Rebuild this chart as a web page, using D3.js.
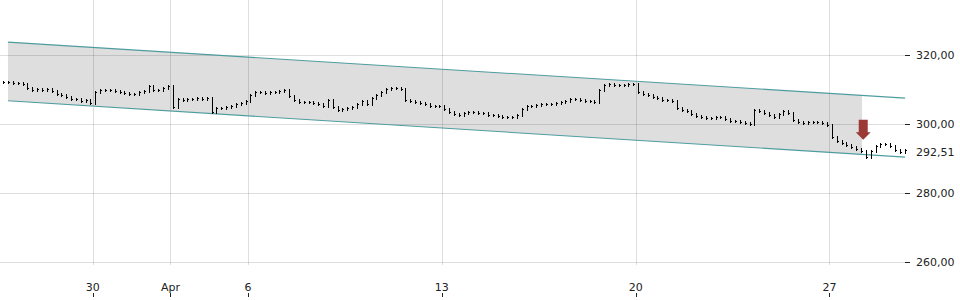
<!DOCTYPE html>
<html>
<head>
<meta charset="utf-8">
<script src="https://cdn.jsdelivr.net/npm/d3@7"></script>
<style>
  html, body { margin: 0; padding: 0; background: #fff; }
  svg { display: block; font-family: "DejaVu Sans", sans-serif; }
</style>
</head>
<body>
<svg id="chart" width="960" height="300"></svg>
<script>
// ---------- DATA ----------
const tradingDays = [
  "2015-03-25","2015-03-26","2015-03-27","2015-03-30","2015-03-31",
  "2015-04-01","2015-04-02","2015-04-06","2015-04-07","2015-04-08",
  "2015-04-09","2015-04-10","2015-04-13","2015-04-14","2015-04-15",
  "2015-04-16","2015-04-17","2015-04-20","2015-04-21","2015-04-22",
  "2015-04-23","2015-04-24","2015-04-27","2015-04-28"
];
const barsPerDay = 8;
// intraday closes per trading day (first day only partially visible)
const closes = [
  [312.10, 312.20, 311.88],
  [311.88, 311.74, 310.43, 309.86, 310.14, 310.00, 310.29, 309.57],
  [308.84, 308.41, 307.83, 307.25, 307.39, 306.81, 306.96, 306.23],
  [309.28, 309.86, 309.86, 310.00, 309.57, 309.42, 309.13, 308.84],
  [308.70, 309.28, 309.71, 311.01, 310.00, 310.00, 310.43, 311.16],
  [304.93, 307.25, 306.96, 307.25, 307.39, 307.54, 307.39, 307.68],
  [303.62, 304.64, 304.78, 305.07, 305.36, 305.80, 306.09, 306.67],
  [308.55, 309.28, 309.42, 309.13, 309.28, 309.42, 309.57, 309.86],
  [308.12, 307.10, 306.52, 306.52, 306.38, 306.23, 305.80, 305.36],
  [306.96, 304.93, 304.06, 304.35, 304.78, 305.07, 305.94, 306.81],
  [305.80, 307.68, 308.41, 309.28, 310.14, 310.58, 310.58, 310.29],
  [306.96, 306.67, 306.52, 306.23, 305.80, 305.36, 305.36, 305.22],
  [304.35, 303.48, 302.90, 302.61, 303.19, 303.62, 303.48, 303.33],
  [303.19, 302.75, 302.61, 302.32, 302.03, 302.03, 302.17, 302.61],
  [304.35, 305.22, 305.22, 305.65, 305.94, 305.80, 305.94, 306.23],
  [306.38, 306.81, 307.25, 307.39, 306.96, 306.81, 306.67, 306.52],
  [309.86, 311.30, 311.59, 311.30, 311.45, 311.45, 311.59, 311.74],
  [309.28, 308.70, 308.41, 307.97, 307.54, 307.10, 306.96, 306.81],
  [304.64, 304.20, 303.77, 303.04, 302.32, 302.03, 301.74, 301.88],
  [302.03, 302.03, 301.45, 301.01, 300.87, 300.58, 300.43, 300.14],
  [304.06, 303.77, 303.19, 302.75, 302.17, 303.04, 303.77, 303.19],
  [301.30, 300.58, 300.29, 300.58, 300.72, 300.58, 300.29, 299.86],
  [296.23, 295.07, 294.49, 294.06, 293.48, 292.75, 292.17, 290.43],
  [292.17, 293.62, 294.35, 294.35, 293.62, 292.61, 292.03, 292.51]
];
// trend channel (position in trading days, upper and lower bound)
const channelT     = [0.81, 23.95];
const channelUpper = [323.73, 307.53];
const channelLower = [306.74, 290.45];
const channelFillEndT = 22.84;
// sell signal
const signalT = 22.87;
const signalValue = 295.5;
// axes
const yTicks = [260, 280, 300, 320];
const xTickDates  = ["2015-03-30","2015-04-01","2015-04-06","2015-04-13","2015-04-20","2015-04-27"];
const xTickLabels = ["30","Apr","6","13","20","27"];

// ---------- CHART ----------
const W = 960, H = 300;
const plotRight = 905, plotBottom = 265;
const svg = d3.select("#chart");

const x = d3.scaleLinear().domain([0.605, 25.366]).range([0, W]);
const y = d3.scaleLinear().domain([260, 320]).range([262.3, 55]);

const loc = d3.formatLocale({decimal: ",", thousands: ".", grouping: [3], currency: ["", ""]});
const fmt = loc.format(".2f");

// bars flattened
const bars = [];
closes.forEach((arr, d) => {
  const off = barsPerDay - arr.length;
  arr.forEach((c, k) => {
    bars.push({t: d + (off + k + 0.5) / barsPerDay, c});
  });
});
bars.forEach((b, i) => { b.o = i > 0 ? bars[i - 1].c : b.c; });

// channel fill
const lerp = (a, b, f) => a + (b - a) * f;
const fEnd = (channelFillEndT - channelT[0]) / (channelT[1] - channelT[0]);
const fillPts = [
  [channelT[0], channelUpper[0]],
  [channelFillEndT, lerp(channelUpper[0], channelUpper[1], fEnd)],
  [channelFillEndT, lerp(channelLower[0], channelLower[1], fEnd)],
  [channelT[0], channelLower[0]]
];
svg.append("path")
  .attr("d", d3.line().x(d => x(d[0])).y(d => y(d[1]))(fillPts) + "Z")
  .attr("fill", "#dedede");

// gridlines
const xTickT = xTickDates.map(d => tradingDays.indexOf(d));
svg.append("g").selectAll("line").data(yTicks).join("line")
  .attr("x1", 0).attr("x2", plotRight)
  .attr("y1", d => Math.round(y(d)) + 0.5).attr("y2", d => Math.round(y(d)) + 0.5)
  .attr("stroke", "rgba(0,0,0,0.13)");
svg.append("g").selectAll("line").data(xTickT).join("line")
  .attr("x1", d => Math.round(x(d)) + 0.5).attr("x2", d => Math.round(x(d)) + 0.5)
  .attr("y1", 0).attr("y2", plotBottom)
  .attr("stroke", "rgba(0,0,0,0.13)");

// channel lines
[channelUpper, channelLower].forEach(arr => {
  svg.append("line")
    .attr("x1", x(channelT[0])).attr("y1", y(arr[0]))
    .attr("x2", x(channelT[1])).attr("y2", y(arr[1]))
    .attr("stroke", "#4f9c9e").attr("stroke-width", 1.1);
});

// OHLC-style bars
const g = svg.append("g").attr("stroke", "#000").attr("stroke-width", 1)
  .attr("shape-rendering", "crispEdges");
bars.forEach(b => {
  const xc = Math.round(x(b.t)) + 0.5;
  const top = Math.round(Math.min(y(b.o), y(b.c))) - 1;
  const bot = Math.round(Math.max(y(b.o), y(b.c))) + 2;
  g.append("line").attr("x1", xc).attr("x2", xc).attr("y1", top).attr("y2", bot);
  g.append("line").attr("x1", xc - 1).attr("x2", xc).attr("y1", Math.round(y(b.o)) + 0.5).attr("y2", Math.round(y(b.o)) + 0.5);
  g.append("line").attr("x1", xc).attr("x2", xc + 1.5).attr("y1", Math.round(y(b.c)) + 0.5).attr("y2", Math.round(y(b.c)) + 0.5);
});

// signal arrow (down)
const ax = x(signalT), ay = y(signalValue);
const arrow = [[ax - 4.5, ay - 20], [ax + 4.5, ay - 20], [ax + 4.5, ay - 7.5], [ax + 7.5, ay - 7.5],
               [ax, ay], [ax - 7.5, ay - 7.5], [ax - 4.5, ay - 7.5]];
svg.append("path")
  .attr("d", d3.line()(arrow) + "Z")
  .attr("fill", "#9b3a34");

// right axis
const ra = svg.append("g");
ra.selectAll("line").data(yTicks).join("line")
  .attr("x1", plotRight).attr("x2", plotRight + 5)
  .attr("y1", d => Math.round(y(d)) + 0.5).attr("y2", d => Math.round(y(d)) + 0.5)
  .attr("stroke", "#222");
ra.selectAll("text").data(yTicks).join("text")
  .attr("x", 916).attr("y", d => y(d)).attr("dy", "0.36em")
  .attr("font-size", 11).attr("fill", "#222")
  .text(d => fmt(d));
const last = bars[bars.length - 1].c;
svg.append("text")
  .attr("x", 916).attr("y", y(last) + 2).attr("dy", "0.36em")
  .attr("font-size", 11).attr("fill", "#222")
  .text(fmt(last));

// bottom axis
const ba = svg.append("g");
ba.selectAll("line").data(xTickT).join("line")
  .attr("x1", d => Math.round(x(d)) + 0.5).attr("x2", d => Math.round(x(d)) + 0.5)
  .attr("y1", 293).attr("y2", 297)
  .attr("stroke", "#222");
ba.selectAll("text").data(xTickT).join("text")
  .attr("x", d => x(d)).attr("y", 291)
  .attr("text-anchor", "middle")
  .attr("font-size", 11).attr("fill", "#222")
  .text((d, i) => xTickLabels[i]);
</script>
</body>
</html>
